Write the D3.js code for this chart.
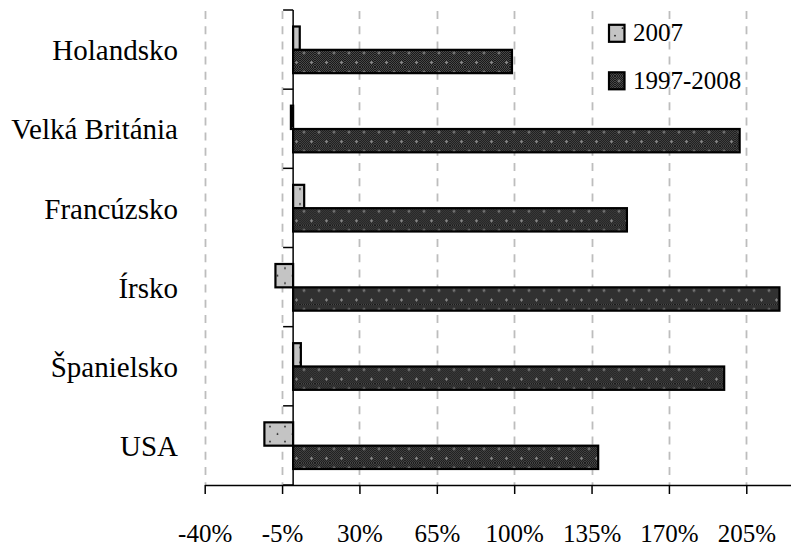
<!DOCTYPE html>
<html>
<head>
<meta charset="utf-8">
<script src="https://cdn.jsdelivr.net/npm/d3@7"></script>
<style>
  html, body { margin: 0; padding: 0; background: #fff; }
  svg { display: block; }
  svg text { font-family: "Times New Roman", Times, "Liberation Serif", "DejaVu Serif", serif; }
</style>
</head>
<body>
<svg id="chart" width="791" height="546"></svg>
<script>
// Countries, listed top to bottom
const countries = ["Holandsko", "Velká Británia", "Francúzsko", "Írsko", "Španielsko", "USA"];
// Series names
const seriesNames = ["2007", "1997-2008"];
// Change in house prices (fractions)
const values2007 = [0.03, -0.01, 0.05, -0.08, 0.035, -0.13];
const values9708 = [0.99, 2.02, 1.51, 2.20, 1.95, 1.38];
// Axis ticks
const tickValues = [-0.40, -0.05, 0.30, 0.65, 1.00, 1.35, 1.70, 2.05];

const svg = d3.select("#chart");
const defs = svg.append("defs");

// fine checker used as the base of the dark fill
const checker = defs.append("pattern")
  .attr("id", "checker").attr("patternUnits", "userSpaceOnUse")
  .attr("width", 2).attr("height", 2);
checker.append("rect").attr("width", 2).attr("height", 2).attr("fill", "#474747");
checker.append("rect").attr("width", 1).attr("height", 1).attr("fill", "#1a1a1a");
checker.append("rect").attr("x", 1).attr("y", 1).attr("width", 1).attr("height", 1).attr("fill", "#1a1a1a");

// dark fill: checker with staggered light specks
const dark = defs.append("pattern")
  .attr("id", "darkFill").attr("patternUnits", "userSpaceOnUse")
  .attr("width", 15).attr("height", 19);
dark.append("rect").attr("width", 15).attr("height", 19).attr("fill", "url(#checker)");
[[4, 5], [11.5, 14.5]].forEach(([cx, cy]) => {
  dark.append("rect").attr("x", cx - 1.5).attr("y", cy - 0.5).attr("width", 3).attr("height", 1).attr("fill", "#858585");
  dark.append("rect").attr("x", cx - 0.5).attr("y", cy - 1.5).attr("width", 1).attr("height", 3).attr("fill", "#858585");
});

// light fill: gray with sparse dark dots
const light = defs.append("pattern")
  .attr("id", "lightFill").attr("patternUnits", "userSpaceOnUse")
  .attr("width", 15).attr("height", 15);
light.append("rect").attr("width", 15).attr("height", 15).attr("fill", "#c4c4c4");
light.append("circle").attr("cx", 0).attr("cy", 5.7).attr("r", 0.9).attr("fill", "#222");
light.append("circle").attr("cx", 15).attr("cy", 5.7).attr("r", 0.9).attr("fill", "#222");
light.append("circle").attr("cx", 7.5).attr("cy", 13.2).attr("r", 0.9).attr("fill", "#222");

const fills = { "2007": "url(#lightFill)", "1997-2008": "url(#darkFill)" };

const plotTop = 10, plotBottom = 485;
const x = d3.scaleLinear().domain([-0.40, 2.40]).range([204.7, 204.7 + 8 * 77.37]);
const y = d3.scaleBand().domain(countries).range([plotTop, plotBottom]).padding(0);
const ySub = d3.scaleBand().domain(seriesNames).range([16.5, y.bandwidth() - 16]).padding(0);

// dashed vertical gridlines
svg.append("g")
  .selectAll("line").data(tickValues).join("line")
  .attr("x1", d => Math.round(x(d)) + 0.5).attr("x2", d => Math.round(x(d)) + 0.5)
  .attr("y1", plotTop + 1).attr("y2", plotBottom)
  .attr("stroke", "#bdbdbd").attr("stroke-width", 1.8)
  .attr("stroke-dasharray", "8,7.2");

// bars
const rows = countries.map((c, i) => ({ country: c, vals: [values2007[i], values9708[i]] }));
const groups = svg.append("g").selectAll("g").data(rows).join("g")
  .attr("transform", d => `translate(0,${y(d.country)})`);
groups.selectAll("rect")
  .data(d => d.vals.map((v, j) => ({ series: seriesNames[j], value: v })))
  .join("rect")
  .attr("x", d => x(Math.min(0, d.value)))
  .attr("width", d => Math.abs(x(d.value) - x(0)))
  .attr("y", d => ySub(d.series))
  .attr("height", ySub.bandwidth())
  .attr("fill", d => fills[d.series])
  .attr("stroke", "#000").attr("stroke-width", 2.2);

// category axis at zero
const yAxisG = svg.append("g");
yAxisG.append("line")
  .attr("x1", x(0)).attr("x2", x(0))
  .attr("y1", plotTop).attr("y2", plotBottom)
  .attr("stroke", "#000").attr("stroke-width", 1.5);
yAxisG.selectAll("line.tick").data(d3.range(countries.length + 1)).join("line")
  .attr("class", "tick")
  .attr("x1", x(0) - 10).attr("x2", x(0))
  .attr("y1", i => plotTop + i * y.step()).attr("y2", i => plotTop + i * y.step())
  .attr("stroke", "#000").attr("stroke-width", 1.5);

// category labels
svg.append("g").selectAll("text").data(countries).join("text")
  .attr("x", 178)
  .attr("y", d => y(d) + y.bandwidth() / 2 + 4)
  .attr("text-anchor", "end")
  .attr("dominant-baseline", "middle")
  .attr("font-size", 29)
  .text(d => d);

// value axis
const xAxis = d3.axisBottom(x)
  .tickValues(tickValues)
  .tickSize(9).tickSizeOuter(0)
  .tickFormat(d => `${Math.round(d * 100)}%`);
const xg = svg.append("g").attr("transform", `translate(0,${plotBottom})`).call(xAxis);
xg.attr("font-family", null).attr("font-size", 25);
xg.select(".domain").attr("stroke", "#000").attr("stroke-width", 1.5);
xg.selectAll(".tick line").attr("stroke", "#000").attr("stroke-width", 1.5);
xg.selectAll(".tick text")
  .attr("y", 48).attr("dy", "0.35em")
  .attr("fill", "#000");

// legend
const legend = svg.append("g");
const legendItems = [{ name: "2007", cy: 33.3 }, { name: "1997-2008", cy: 80.8 }];
legend.selectAll("rect").data(legendItems).join("rect")
  .attr("x", 609).attr("y", d => d.cy - 8.5)
  .attr("width", 15.5).attr("height", 17)
  .attr("fill", d => fills[d.name])
  .attr("stroke", "#000").attr("stroke-width", 2.2);
legend.selectAll("text").data(legendItems).join("text")
  .attr("x", 633).attr("y", d => d.cy + 2)
  .attr("dominant-baseline", "middle")
  .attr("font-size", 25)
  .text(d => d.name);
</script>
</body>
</html>
